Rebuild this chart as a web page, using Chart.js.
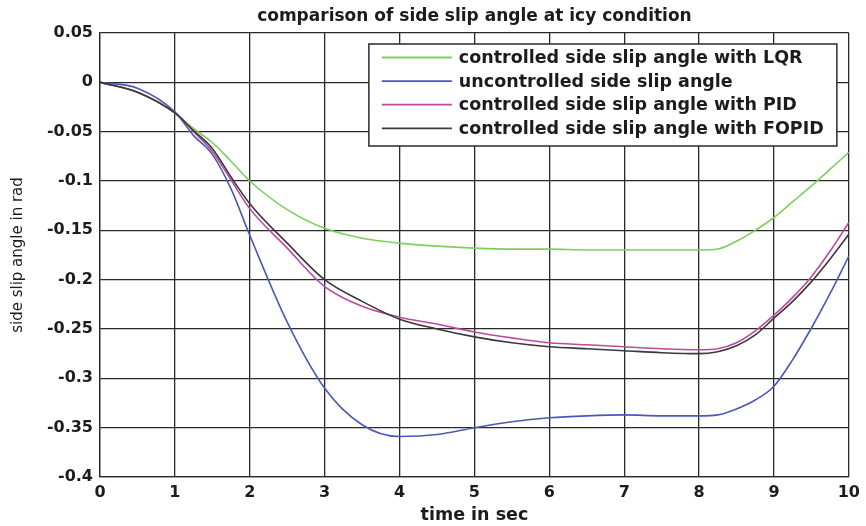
<!DOCTYPE html>
<html>
<head>
<meta charset="utf-8">
<title>side slip angle</title>
<script src="https://cdn.jsdelivr.net/npm/chart.js@4"></script>
<style>
    html, body { margin: 0; padding: 0; background: #fff; }
    #plot { display: block; }
</style>
</head>
<body>
<canvas id="plot" width="866" height="526"></canvas>
<script>
'use strict';

// time axis (s) shared by every series
const timeSec = [0, 0.5, 1, 1.25, 1.5, 1.75, 2, 2.5, 3, 3.5, 4, 4.5, 5, 5.5, 6, 6.5, 7, 7.5, 8, 8.25, 8.5, 8.75, 9, 9.25, 9.5, 9.75, 10];

// side slip angle (rad)
const betaLqr = [0, -0.010, -0.031, -0.047, -0.061, -0.080, -0.100, -0.129, -0.148, -0.158, -0.163, -0.166, -0.168, -0.169, -0.169, -0.170, -0.170, -0.170, -0.170, -0.169, -0.161, -0.150, -0.137, -0.121, -0.105, -0.088, -0.071];
const betaUncontrolled = [0, -0.006, -0.030, -0.054, -0.073, -0.108, -0.155, -0.243, -0.310, -0.347, -0.359, -0.357, -0.350, -0.344, -0.340, -0.338, -0.337, -0.338, -0.338, -0.337, -0.331, -0.322, -0.308, -0.281, -0.249, -0.214, -0.176];
const betaPid = [0, -0.010, -0.031, -0.050, -0.070, -0.099, -0.128, -0.168, -0.207, -0.227, -0.238, -0.245, -0.253, -0.259, -0.264, -0.266, -0.268, -0.270, -0.271, -0.270, -0.264, -0.252, -0.236, -0.218, -0.197, -0.171, -0.142];
const betaFopid = [0, -0.010, -0.031, -0.049, -0.067, -0.096, -0.123, -0.163, -0.200, -0.222, -0.240, -0.250, -0.258, -0.264, -0.268, -0.270, -0.272, -0.274, -0.275, -0.273, -0.267, -0.256, -0.239, -0.222, -0.202, -0.179, -0.154];

const seriesLabels = [
    'controlled side slip angle with LQR',
    'uncontrolled side slip angle',
    'controlled side slip angle with PID',
    'controlled side slip angle with FOPID'
];
const seriesColors = ['#7dcf5c', '#4b58b8', '#bb4aa2', '#3a3a3a'];

const xTicks = { min: 0, max: 10, step: 1 };
const yTicks = { min: -0.4, max: 0.05, step: 0.05 };

const chartTitle = 'comparison of side slip angle at icy condition';
const xTitle = 'time in sec';
const yTitle = 'side slip angle in rad';

const FONT = '"DejaVu Sans", "Liberation Sans", sans-serif';
const INK = '#1c1c1c';
const GRID = '#2a2a2a';

function toPoints(values) {
    return timeSec.map((t, i) => ({ x: t, y: values[i] }));
}

const datasets = [betaLqr, betaUncontrolled, betaPid, betaFopid].map((values, i) => ({
    label: seriesLabels[i],
    data: toPoints(values),
    borderColor: seriesColors[i],
    backgroundColor: seriesColors[i],
    borderWidth: 1.6,
    pointRadius: 0,
    fill: false,
    cubicInterpolationMode: 'monotone',
    order: 3 - i    // later series drawn on top
}));

// title above the axes box
const titlePlugin = {
    id: 'plotTitle',
    afterDraw(chart) {
        const { ctx, chartArea } = chart;
        ctx.save();
        ctx.fillStyle = INK;
        ctx.font = 'bold 17px ' + FONT;
        ctx.textAlign = 'center';
        ctx.textBaseline = 'middle';
        ctx.fillText(chartTitle, (chartArea.left + chartArea.right) / 2, 17);
        ctx.restore();
    }
};

// boxed legend in the upper right corner of the axes
const boxLegendPlugin = {
    id: 'boxLegend',
    afterDraw(chart) {
        const { ctx, chartArea } = chart;
        const right = chartArea.right - 12;
        const left = right - 468;
        const top = chartArea.top + 11;
        const rowH = 23.6;
        const height = 102;

        ctx.save();
        ctx.fillStyle = '#fff';
        ctx.fillRect(left, top, right - left, height);
        ctx.strokeStyle = GRID;
        ctx.lineWidth = 1.5;
        ctx.strokeRect(left, top, right - left, height);

        ctx.font = 'bold 17.5px ' + FONT;
        ctx.textBaseline = 'middle';
        ctx.textAlign = 'left';
        chart.data.datasets.forEach((ds, i) => {
            const y = top + 13.5 + i * rowH;
            ctx.strokeStyle = ds.borderColor;
            ctx.lineWidth = 1.8;
            ctx.beginPath();
            ctx.moveTo(left + 13, y);
            ctx.lineTo(left + 83, y);
            ctx.stroke();
            ctx.fillStyle = INK;
            ctx.fillText(ds.label, left + 90, y + 1);
        });
        ctx.restore();
    }
};

new Chart(document.getElementById('plot').getContext('2d'), {
    type: 'line',
    data: { datasets },
    options: {
        responsive: false,
        animation: false,
        layout: { padding: { top: 33, left: 0, right: 14, bottom: 0 } },
        plugins: {
            legend: { display: false },
            title: { display: false },
            tooltip: { enabled: false }
        },
        scales: {
            x: {
                type: 'linear',
                min: xTicks.min,
                max: xTicks.max,
                afterFit(scale) { scale.height = 49; },
                grid: { color: GRID, lineWidth: 1.3, drawTicks: false },
                border: { color: GRID, width: 1.3 },
                ticks: {
                    stepSize: xTicks.step,
                    padding: 6,
                    color: INK,
                    font: { family: FONT, size: 16, weight: 'bold' },
                    maxRotation: 0
                },
                title: {
                    display: true,
                    text: xTitle,
                    color: INK,
                    font: { family: FONT, size: 17.5, weight: 'bold' },
                    padding: { top: 0, bottom: 0 }
                }
            },
            y: {
                type: 'linear',
                min: yTicks.min,
                max: yTicks.max,
                afterFit(scale) { scale.width = 100; },
                grid: { color: GRID, lineWidth: 1.3, drawTicks: false },
                border: { color: GRID, width: 1.3 },
                ticks: {
                    stepSize: yTicks.step,
                    padding: 7,
                    color: INK,
                    font: { family: FONT, size: 16, weight: 'bold' },
                    callback: value => String(+value.toFixed(2))
                },
                title: {
                    display: true,
                    text: yTitle,
                    color: INK,
                    font: { family: FONT, size: 15 },
                    padding: { top: 9, bottom: 0 }
                }
            }
        }
    },
    plugins: [titlePlugin, boxLegendPlugin]
});
</script>
</body>
</html>
